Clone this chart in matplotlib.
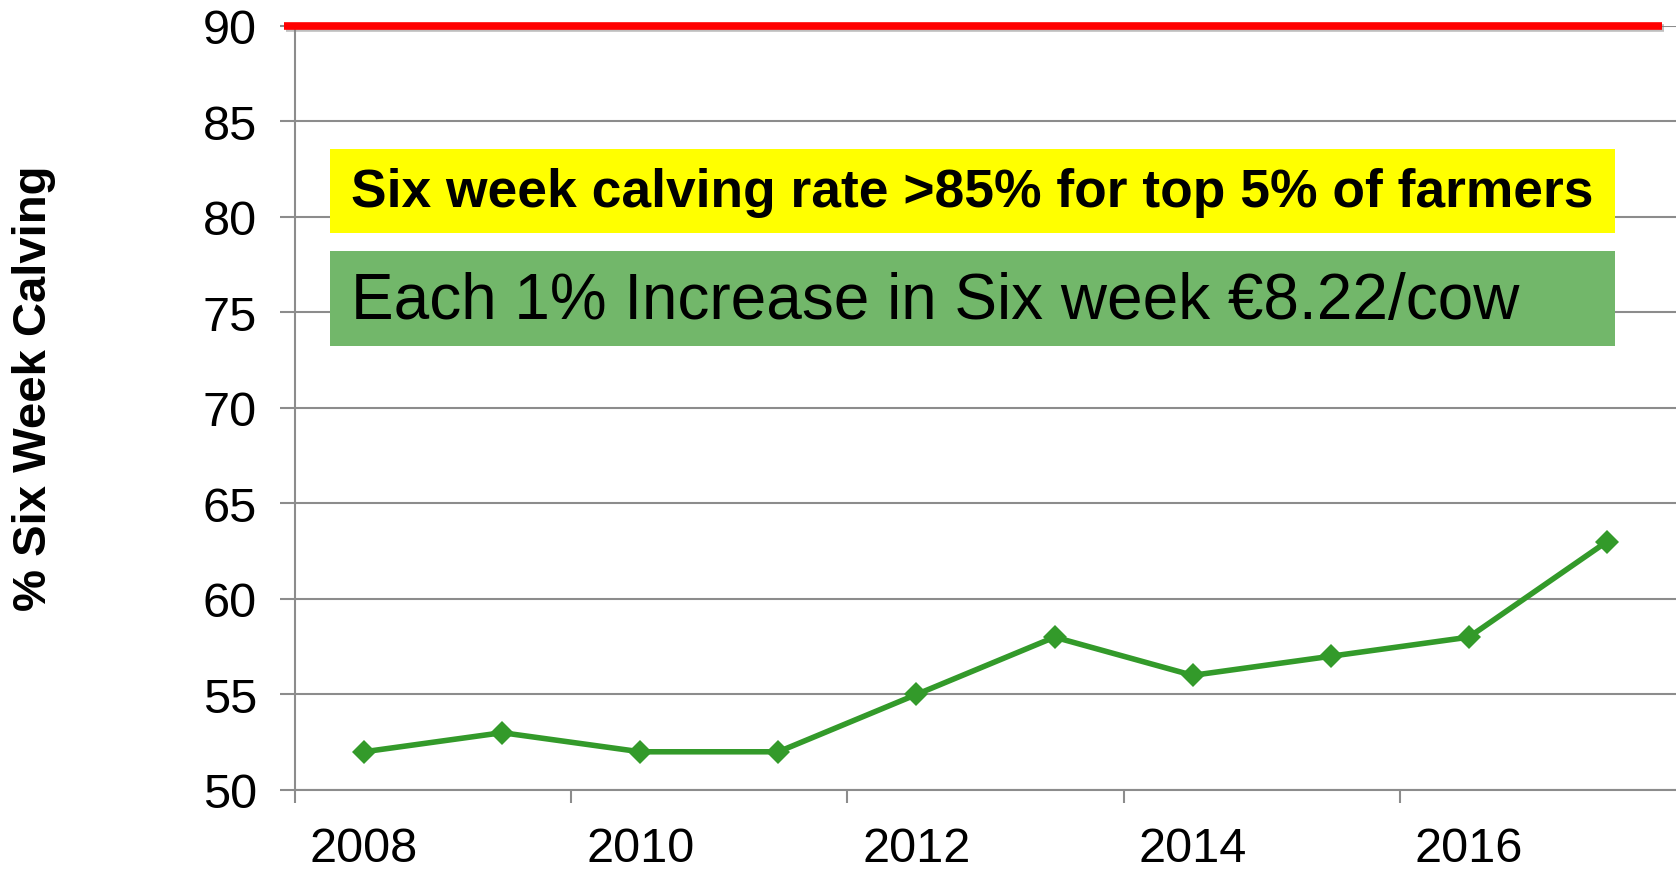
import matplotlib
matplotlib.use("Agg")
import matplotlib.pyplot as plt
import matplotlib.patheffects as pe
from matplotlib.patches import Rectangle
from matplotlib.ticker import FixedLocator, NullFormatter, FixedFormatter

plt.rcParams['font.family'] = ['Liberation Sans', 'DejaVu Sans']

years = [2008, 2009, 2010, 2011, 2012, 2013, 2014, 2015, 2016, 2017]
six_week_rate = [52, 53, 52, 52, 55, 58, 56, 57, 58, 63]
target = 90
y_ticks = [50, 55, 60, 65, 70, 75, 80, 85, 90]
x_labels = ['2008', '2010', '2012', '2014', '2016']

fig = plt.figure(figsize=(16.76, 8.70), dpi=100)
ax = fig.add_axes([295/1676, 79/870, 1 - 295/1676, (791 - 26.7)/870])

xs = list(range(len(years)))
ax.plot(xs, six_week_rate, color='#339A2A', lw=4, marker='D', ms=12,
        markeredgewidth=0, zorder=4)

# target line
ax.plot([-0.58, 9.40], [target, target], color='#FF0000', lw=5.5,
        solid_capstyle='butt', clip_on=False, zorder=5,
        path_effects=[pe.SimpleLineShadow(offset=(1.5, -2), shadow_color='gray', alpha=0.5), pe.Normal()])

ax.set_xlim(-0.5, 9.5)
ax.set_ylim(50, 90)
ax.set_yticks(y_ticks)
ax.yaxis.grid(True, color='#8C8C8C', lw=1.5)
ax.set_axisbelow(True)

# x ticks: marks at category boundaries every 2, labels at category centers
ax.xaxis.set_major_locator(FixedLocator([-0.5, 1.5, 3.5, 5.5, 7.5]))
ax.xaxis.set_major_formatter(NullFormatter())
ax.xaxis.set_minor_locator(FixedLocator([0, 2, 4, 6, 8]))
ax.xaxis.set_minor_formatter(FixedFormatter(x_labels))
ax.tick_params(axis='x', which='major', length=9, width=1.5, color='#8C8C8C')
ax.tick_params(axis='x', which='minor', length=0, pad=26, labelsize=35)
ax.tick_params(axis='y', length=10.5, width=1.5, color='#8C8C8C', labelsize=35, pad=17)

for s in ['top', 'right']:
    ax.spines[s].set_visible(False)
ax.spines['left'].set_color('#8C8C8C')
ax.spines['left'].set_linewidth(1.5)
ax.spines['bottom'].set_color('#8C8C8C')
ax.spines['bottom'].set_linewidth(1.5)

fig.text(34/1676, 1 - 388/870, '% Six Week Calving', rotation=90, fontsize=34,
         fontweight='bold', ha='center', va='center')

# annotation boxes
fig.patches.append(Rectangle((330/1676, 1 - 234/870), 1285/1676, 84/870,
                             transform=fig.transFigure, facecolor='#FFFF00', edgecolor='none', zorder=3))
fig.patches.append(Rectangle((330/1676, 1 - 347/870), 1285/1676, 95/870,
                             transform=fig.transFigure, facecolor='#72B76A', edgecolor='none', zorder=3))
fig.text(351/1676, 1 - 193/870, 'Six week calving rate >85% for top 5% of farmers',
         fontsize=38.4, fontweight='bold', ha='left', va='center', zorder=6)
fig.text(351/1676, 1 - 302/870, 'Each 1% Increase in Six week €8.22/cow',
         fontsize=46, ha='left', va='center', zorder=6)

fig.savefig('out.png', dpi=100)
